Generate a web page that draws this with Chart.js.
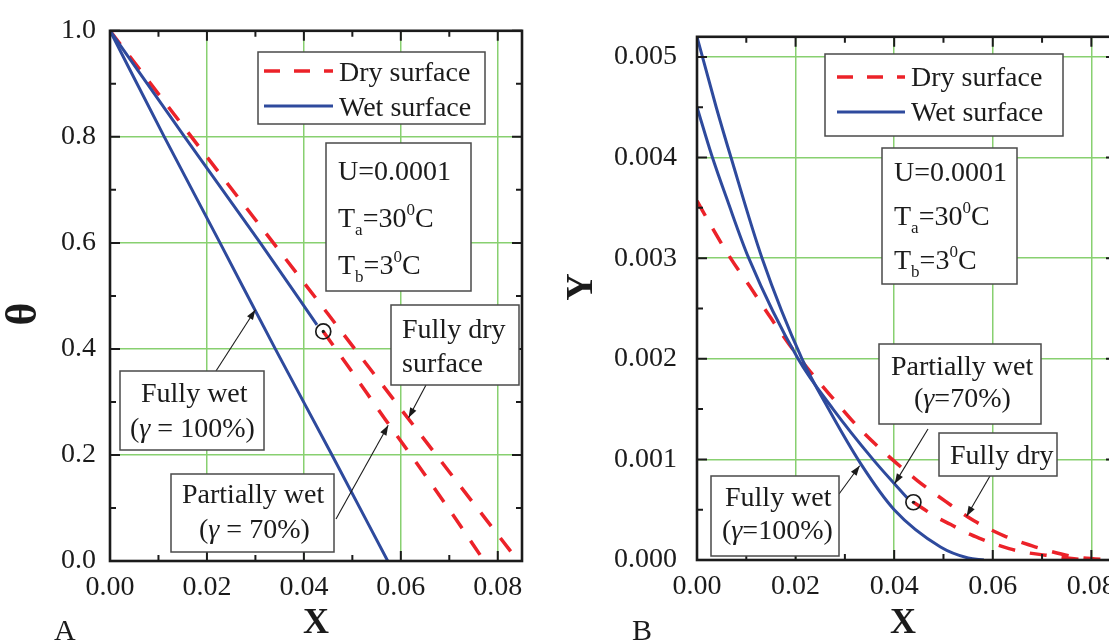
<!DOCTYPE html>
<html>
<head>
<meta charset="utf-8">
<script src="https://cdn.jsdelivr.net/npm/chart.js@4.4.1/dist/chart.umd.min.js"></script>
<style>
  html, body { margin: 0; padding: 0; background: #fff; overflow: hidden; width: 1109px; height: 640px; }
  #wrapA { position: absolute; left: 0; top: 0; width: 560px; height: 640px; }
  #wrapB { position: absolute; left: 560px; top: 0; width: 600px; height: 640px; }
</style>
</head>
<body>
<div id="wrapA"><canvas id="chartA" width="560" height="640"></canvas></div>
<div id="wrapB"><canvas id="chartB" width="600" height="640"></canvas></div>
<script>
// =========================
// Data
// =========================

// Panel A : theta vs X
const xFullyWetA = [0, 0.0112, 0.0227, 0.0341, 0.0458, 0.0573];
const yFullyWetA = [1, 0.8, 0.6, 0.4, 0.2, 0];
const xPartWetA = [0, 0.0154, 0.031, 0.0427];
const yPartWetA = [1, 0.8, 0.6, 0.4455];
const xFullyDryA = [0, 0.02, 0.0337, 0.0505, 0.0673, 0.0842];
const yFullyDryA = [1, 0.762, 0.6, 0.4, 0.2, 0];
const xPartDryA = [0.044, 0.0496, 0.0568, 0.0634, 0.0706, 0.0772];
const yPartDryA = [0.433, 0.361, 0.267, 0.183, 0.089, 0];
const switchA = { x: 0.044, y: 0.433 };

// Panel B : Y vs X
const xFullyWetB = [0, 0.0039, 0.0069, 0.0132, 0.0213, 0.0267, 0.0333, 0.04, 0.0494, 0.055, 0.0582];
const yFullyWetB = [0.0052, 0.0045, 0.004, 0.003, 0.002, 0.0015, 0.00095, 0.0005, 0.00013, 0.00002, 0];
const xPartWetB = [0, 0.003, 0.0062, 0.0105, 0.0205, 0.0276, 0.0357, 0.04, 0.0426];
const yPartWetB = [0.0045, 0.00402, 0.00357, 0.003, 0.002, 0.0015, 0.001, 0.00076, 0.00062];
const xFullyDryB = [0, 0.0034, 0.0068, 0.0107, 0.0145, 0.0186, 0.023, 0.0277, 0.0331, 0.0389,
  0.0447, 0.0505, 0.0562, 0.0623, 0.068, 0.0707, 0.0768, 0.085];
const yFullyDryB = [0.00357, 0.003275, 0.003, 0.00272, 0.00244, 0.00215, 0.00187, 0.0016, 0.0013, 0.00103,
  0.00079, 0.00058, 0.00039, 0.00024, 0.00014, 0.0001, 0.00003, 0];
const xPartDryB = [0.0439, 0.0488, 0.0514, 0.0545, 0.0576, 0.0606, 0.0633, 0.0667, 0.0707, 0.075, 0.079];
const yPartDryB = [0.000574, 0.00042, 0.000355, 0.000274, 0.00021, 0.000155, 0.000113, 0.000075, 0.000048, 0.00002, 0];
const switchB = { x: 0.0439, y: 0.000574 };

// Axes
const xMax = 0.085;
const xMinorStep = 0.01, xMajorStep = 0.02;
const yMaxA = 1.0, yMinorStepA = 0.1, yMajorStepA = 0.2;
const yMaxB = 0.0052, yMinorStepB = 0.0005, yMajorStepB = 0.001;

// =========================
// Styles
// =========================

const RED = "#ec2229";
const BLUE = "#2e4a9d";
const GREEN = "#88d070";
const INK = "#1b1b1b";
const SERIF = '"Liberation Serif", "Times New Roman", serif';
const TXT = 28;

const toPts = (xs, ys) => xs.map((x, i) => ({ x, y: ys[i] }));

function isMajor(v, step) {
  const r = v / step;
  return Math.abs(r - Math.round(r)) < 1e-6;
}

// =========================
// Drawing helpers
// =========================

function drawRich(ctx, x, y, parts) {
  let cx = x;
  parts.forEach((p) => {
    const small = p.sub || p.sup;
    const s = small ? Math.round(TXT * 0.62) : TXT;
    ctx.font = (p.it ? "italic " : "") + s + "px " + SERIF;
    const dy = p.sub ? TXT * 0.3 : p.sup ? -TXT * 0.42 : 0;
    ctx.fillText(p.t, cx, y + dy);
    cx += ctx.measureText(p.t).width;
  });
}

function drawArrow(ctx, x1, y1, x2, y2) {
  ctx.save();
  ctx.strokeStyle = INK;
  ctx.fillStyle = INK;
  ctx.lineWidth = 1.1;
  ctx.beginPath();
  ctx.moveTo(x1, y1);
  ctx.lineTo(x2, y2);
  ctx.stroke();
  const a = Math.atan2(y2 - y1, x2 - x1), L = 10, W = 3.5;
  ctx.beginPath();
  ctx.moveTo(x2, y2);
  ctx.lineTo(x2 - L * Math.cos(a) + W * Math.sin(a), y2 - L * Math.sin(a) - W * Math.cos(a));
  ctx.lineTo(x2 - L * Math.cos(a) - W * Math.sin(a), y2 - L * Math.sin(a) + W * Math.cos(a));
  ctx.closePath();
  ctx.fill();
  ctx.restore();
}

function drawBox(ctx, b) {
  ctx.save();
  ctx.fillStyle = "#fff";
  ctx.fillRect(b.x, b.y, b.w, b.h);
  ctx.strokeStyle = "#4a4a4a";
  ctx.lineWidth = 1.5;
  ctx.strokeRect(b.x, b.y, b.w, b.h);
  ctx.restore();
}

const decorPlugin = {
  id: "decor",
  afterDatasetsDraw(chart, args, opts) {
    const ctx = chart.ctx;
    const { left, right, top, bottom } = chart.chartArea;
    const sx = chart.scales.x, sy = chart.scales.y;

    ctx.save();
    // inward tick marks on all four sides
    ctx.strokeStyle = INK;
    ctx.lineWidth = 2;
    ctx.beginPath();
    sx.ticks.forEach((t) => {
      const px = sx.getPixelForValue(t.value);
      const len = isMajor(t.value, opts.xStep) ? 10 : 6;
      ctx.moveTo(px, bottom); ctx.lineTo(px, bottom - len);
      ctx.moveTo(px, top); ctx.lineTo(px, top + len);
    });
    sy.ticks.forEach((t) => {
      const py = sy.getPixelForValue(t.value);
      const len = isMajor(t.value, opts.yStep) ? 10 : 6;
      ctx.moveTo(left, py); ctx.lineTo(left + len, py);
      ctx.moveTo(right, py); ctx.lineTo(right - len, py);
    });
    ctx.stroke();

    // frame
    ctx.lineWidth = 2.6;
    ctx.strokeRect(left, top, right - left, bottom - top);

    // legend
    const lg = opts.legend;
    drawBox(ctx, lg);
    ctx.lineWidth = 3.5;
    ctx.strokeStyle = RED;
    ctx.setLineDash([16, 14]);
    ctx.beginPath(); ctx.moveTo(lg.sx1, lg.r1); ctx.lineTo(lg.sx2, lg.r1); ctx.stroke();
    ctx.setLineDash([]);
    ctx.strokeStyle = BLUE;
    ctx.lineWidth = 3;
    ctx.beginPath(); ctx.moveTo(lg.sx1, lg.r2); ctx.lineTo(lg.sx2, lg.r2); ctx.stroke();
    ctx.fillStyle = INK;
    ctx.textAlign = "left";
    ctx.textBaseline = "alphabetic";
    drawRich(ctx, lg.tx, lg.b1, [{ t: "Dry surface" }]);
    drawRich(ctx, lg.tx, lg.b2, [{ t: "Wet surface" }]);

    // text boxes + arrows
    opts.boxes.forEach((b) => {
      if (b.arrow) {
        const tx = sx.getPixelForValue(b.arrow.tip[0]);
        const ty = sy.getPixelForValue(b.arrow.tip[1]);
        drawArrow(ctx, b.arrow.from[0], b.arrow.from[1], tx, ty);
      }
      drawBox(ctx, b);
      ctx.fillStyle = INK;
      b.lines.forEach((ln) => drawRich(ctx, ln.x, ln.y, ln.parts));
    });

    // axis titles and panel letter
    ctx.fillStyle = INK;
    ctx.textAlign = "center";
    ctx.textBaseline = "middle";
    ctx.font = "bold 36px " + SERIF;
    ctx.fillText(opts.xTitle.text, opts.xTitle.x, opts.xTitle.y);
    ctx.font = "bold " + opts.yTitle.size + "px " + SERIF;
    ctx.translate(opts.yTitle.x, opts.yTitle.y);
    ctx.rotate(-Math.PI / 2);
    ctx.fillText(opts.yTitle.text, 0, 0);
    ctx.setTransform(1, 0, 0, 1, 0, 0);
    ctx.textBaseline = "alphabetic";
    ctx.textAlign = "left";
    ctx.font = "30px " + SERIF;
    ctx.fillText(opts.panel.text, opts.panel.x, opts.panel.y);
    ctx.restore();
  },
};

// =========================
// Chart builder
// =========================

function lineSet(pts, color, dashed) {
  return {
    data: pts,
    showLine: true,
    borderColor: color,
    borderWidth: dashed ? 3.5 : 3,
    borderDash: dashed ? [17, 15] : [],
    pointRadius: 0,
    cubicInterpolationMode: "monotone",
    fill: false,
  };
}

function switchSets(p) {
  return [
    { data: [p], pointRadius: 1.6, pointBackgroundColor: INK, pointBorderWidth: 0, showLine: false },
    { data: [p], pointRadius: 7.5, pointBackgroundColor: "rgba(255,255,255,0)", pointBorderColor: INK, pointBorderWidth: 1.7, showLine: false },
  ];
}

function buildChart(canvasId, cfg) {
  return new Chart(document.getElementById(canvasId), {
    type: "scatter",
    data: { datasets: cfg.datasets },
    options: {
      responsive: false,
      animation: false,
      devicePixelRatio: 1,
      layout: { padding: cfg.padding },
      plugins: { legend: { display: false }, tooltip: { enabled: false }, decor: cfg.decor },
      scales: {
        x: {
          type: "linear",
          min: 0,
          max: xMax,
          afterFit: (s) => { s.height = cfg.xHeight; },
          border: { display: false },
          grid: {
            drawTicks: false,
            lineWidth: 1.5,
            color: (c) => (c.tick && c.tick.value > 1e-9 && isMajor(c.tick.value, xMajorStep) ? GREEN : "rgba(0,0,0,0)"),
          },
          ticks: {
            stepSize: xMinorStep,
            includeBounds: false,
            autoSkip: false,
            maxRotation: 0,
            minRotation: 0,
            padding: 10,
            color: INK,
            font: { family: SERIF, size: 28 },
            callback: (v) => (isMajor(v, xMajorStep) ? Number(v).toFixed(2) : ""),
          },
        },
        y: {
          type: "linear",
          min: 0,
          max: cfg.yMax,
          afterFit: (s) => { s.width = cfg.yWidth; },
          border: { display: false },
          grid: {
            drawTicks: false,
            lineWidth: 1.5,
            color: (c) => (c.tick && c.tick.value > 1e-12 && isMajor(c.tick.value, cfg.yMajor) ? GREEN : "rgba(0,0,0,0)"),
          },
          ticks: {
            stepSize: cfg.yMinor,
            includeBounds: false,
            autoSkip: false,
            padding: cfg.yPad,
            color: INK,
            font: { family: SERIF, size: 28 },
            callback: (v) => (isMajor(v, cfg.yMajor) ? Number(v).toFixed(cfg.yDigits) : ""),
          },
        },
      },
    },
    plugins: [decorPlugin],
  });
}

// =========================
// Panel A
// =========================

buildChart("chartA", {
  padding: { left: 0, top: 28, right: 38, bottom: 0 },
  xHeight: 79,
  yWidth: 110,
  yPad: 14,
  yMax: yMaxA,
  yMinor: yMinorStepA,
  yMajor: yMajorStepA,
  yDigits: 1,
  datasets: [
    ...switchSets(switchA),
    lineSet(toPts(xPartWetA, yPartWetA), BLUE, false),
    lineSet(toPts(xFullyWetA, yFullyWetA), BLUE, false),
    lineSet(toPts(xPartDryA, yPartDryA), RED, true),
    lineSet(toPts(xFullyDryA, yFullyDryA), RED, true),
  ],
  decor: {
    xStep: xMajorStep,
    yStep: yMajorStepA,
    xTitle: { text: "X", x: 316, y: 624 },
    yTitle: { text: "θ", x: 25, y: 314, size: 44 },
    panel: { text: "A", x: 54, y: 640 },
    legend: { x: 258, y: 52, w: 227, h: 72, sx1: 264, sx2: 333, r1: 71, r2: 106, tx: 339, b1: 81, b2: 116 },
    boxes: [
      {
        x: 326, y: 143, w: 145, h: 148,
        lines: [
          { x: 338, y: 180, parts: [{ t: "U=0.0001" }] },
          { x: 338, y: 227, parts: [{ t: "T" }, { t: "a", sub: true }, { t: "=30" }, { t: "0", sup: true }, { t: "C" }] },
          { x: 338, y: 274, parts: [{ t: "T" }, { t: "b", sub: true }, { t: "=3" }, { t: "0", sup: true }, { t: "C" }] },
        ],
      },
      {
        x: 391, y: 305, w: 128, h: 80,
        lines: [
          { x: 402, y: 338, parts: [{ t: "Fully dry" }] },
          { x: 402, y: 372, parts: [{ t: "surface" }] },
        ],
        arrow: { from: [426, 385], tip: [0.0616, 0.27] },
      },
      {
        x: 120, y: 371, w: 144, h: 79,
        lines: [
          { x: 141, y: 402, parts: [{ t: "Fully wet" }] },
          { x: 130, y: 437, parts: [{ t: "(" }, { t: "γ", it: true }, { t: " = 100%)" }] },
        ],
        arrow: { from: [216, 371], tip: [0.030, 0.474] },
      },
      {
        x: 171, y: 474, w: 163, h: 78,
        lines: [
          { x: 182, y: 503, parts: [{ t: "Partially wet" }] },
          { x: 199, y: 538, parts: [{ t: "(" }, { t: "γ", it: true }, { t: " = 70%)" }] },
        ],
        arrow: { from: [336, 519], tip: [0.0574, 0.256] },
      },
    ],
  },
});

// =========================
// Panel B (canvas starts at x = 560)
// =========================

buildChart("chartB", {
  padding: { left: 0, top: 22, right: 44, bottom: 0 },
  xHeight: 80,
  yWidth: 137,
  yPad: 20,
  yMax: yMaxB,
  yMinor: yMinorStepB,
  yMajor: yMajorStepB,
  yDigits: 3,
  datasets: [
    ...switchSets(switchB),
    lineSet(toPts(xPartWetB, yPartWetB), BLUE, false),
    lineSet(toPts(xFullyWetB, yFullyWetB), BLUE, false),
    lineSet(toPts(xPartDryB, yPartDryB), RED, true),
    lineSet(toPts(xFullyDryB, yFullyDryB), RED, true),
  ],
  decor: {
    xStep: xMajorStep,
    yStep: yMajorStepB,
    xTitle: { text: "X", x: 343, y: 624 },
    yTitle: { text: "Y", x: 22, y: 287, size: 38 },
    panel: { text: "B", x: 72, y: 640 },
    legend: { x: 265, y: 54, w: 238, h: 82, sx1: 277, sx2: 345, r1: 77, r2: 112, tx: 351, b1: 86, b2: 121 },
    boxes: [
      {
        x: 322, y: 148, w: 135, h: 136,
        lines: [
          { x: 334, y: 181, parts: [{ t: "U=0.0001" }] },
          { x: 334, y: 225, parts: [{ t: "T" }, { t: "a", sub: true }, { t: "=30" }, { t: "0", sup: true }, { t: "C" }] },
          { x: 334, y: 269, parts: [{ t: "T" }, { t: "b", sub: true }, { t: "=3" }, { t: "0", sup: true }, { t: "C" }] },
        ],
      },
      {
        x: 319, y: 344, w: 162, h: 80,
        lines: [
          { x: 331, y: 375, parts: [{ t: "Partially wet" }] },
          { x: 354, y: 407, parts: [{ t: "(" }, { t: "γ", it: true }, { t: "=70%)" }] },
        ],
        arrow: { from: [368, 429], tip: [0.0401, 0.000759] },
      },
      {
        x: 379, y: 433, w: 118, h: 43,
        lines: [{ x: 390, y: 464, parts: [{ t: "Fully dry" }] }],
        arrow: { from: [430, 476], tip: [0.0547, 0.000435] },
      },
      {
        x: 151, y: 476, w: 128, h: 80,
        lines: [
          { x: 165, y: 506, parts: [{ t: "Fully wet" }] },
          { x: 162, y: 539, parts: [{ t: "(" }, { t: "γ", it: true }, { t: "=100%)" }] },
        ],
        arrow: { from: [279, 494], tip: [0.033, 0.000937] },
      },
    ],
  },
});
</script>
</body>
</html>
